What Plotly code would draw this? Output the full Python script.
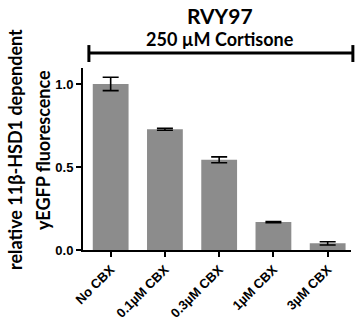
import plotly.graph_objects as go

categories = ["No CBX", "0.1µM CBX", "0.3µM CBX", "1µM CBX", "3µM CBX"]
values = [1.0, 0.727, 0.543, 0.168, 0.040]
errors = [0.040, 0.006, 0.018, 0.004, 0.010]
y_ticks = [0.0, 0.5, 1.0]
y_tick_labels = ["0.0", "0.5", "1.0"]

FONT = "Lato"
TICKFONT = "Liberation Sans"
x_idx = list(range(len(categories)))

fig = go.Figure()
fig.add_trace(go.Bar(
    x=x_idx, y=values, width=0.66,
    marker=dict(color="#8c8c8c", line=dict(width=0)),
    error_y=dict(type="data", array=errors, visible=True, color="black", thickness=1.6, width=8),
))

fig.update_layout(
    width=359, height=323,
    margin=dict(l=83, r=8, t=68, b=73),
    plot_bgcolor="white", paper_bgcolor="white",
    showlegend=False,
    font=dict(family=FONT, color="black"),
    xaxis=dict(
        range=[-0.51, 4.43], tickmode="array", tickvals=x_idx,
        ticktext=["<b>%s</b>" % c for c in categories],
        tickangle=-45, showline=True, linecolor="black", linewidth=2,
        ticks="outside", ticklen=5, tickwidth=2, tickcolor="black",
        tickfont=dict(family=TICKFONT, size=13, color="black", weight="bold"),
        showgrid=False, zeroline=False, automargin=False,
    ),
    yaxis=dict(
        range=[0, 1.096], tickmode="array", tickvals=y_ticks,
        ticktext=["<b>%s</b>" % t for t in y_tick_labels],
        showline=True, linecolor="black", linewidth=2,
        ticks="outside", ticklen=5, tickwidth=2, tickcolor="black",
        tickfont=dict(family=TICKFONT, size=13, color="black", weight="bold"),
        showgrid=False, zeroline=False, automargin=False,
    ),
)

# Titles
fig.add_annotation(text="<b>RVY97</b>", xref="paper", yref="paper", x=0.511, y=1.291,
                   showarrow=False, font=dict(family=FONT, size=21, color="black"),
                   xanchor="center", yanchor="middle")
fig.add_annotation(text="<b>250 µM Cortisone</b>", xref="paper", yref="paper", x=0.511, y=1.16,
                   showarrow=False, font=dict(family=FONT, size=18, color="black"),
                   xanchor="center", yanchor="middle")
# Bracket
fig.add_shape(type="line", xref="paper", yref="paper", x0=0.022, x1=1.007, y0=1.082, y1=1.082,
              line=dict(color="black", width=3))
fig.add_shape(type="line", xref="paper", yref="paper", x0=0.022, x1=0.022, y0=1.033, y1=1.126,
              line=dict(color="black", width=3))
fig.add_shape(type="line", xref="paper", yref="paper", x0=1.007, x1=1.007, y0=1.033, y1=1.126,
              line=dict(color="black", width=3))

# Y axis title (two lines)
fig.add_annotation(text="<b>relative 11β-HSD1 dependent</b>", xref="paper", yref="paper",
                   x=(15 - 83) / 268, y=(250 - 150) / 182, textangle=-90, showarrow=False,
                   font=dict(family=FONT, size=18, color="black"), xanchor="center", yanchor="middle")
fig.add_annotation(text="<b>yEGFP fluorescence</b>", xref="paper", yref="paper",
                   x=(43 - 83) / 268, y=(250 - 150) / 182, textangle=-90, showarrow=False,
                   font=dict(family=FONT, size=18, color="black"), xanchor="center", yanchor="middle")

fig.write_html("out.html", config={"displayModeBar": False},
               post_script="document.body.style.margin='0';")
